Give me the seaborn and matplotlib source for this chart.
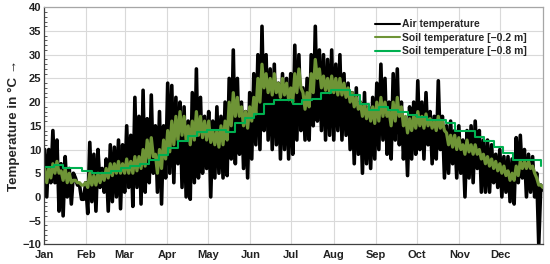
import matplotlib
matplotlib.use("Agg")
import matplotlib.pyplot as plt
import matplotlib.ticker as ticker
from matplotlib.lines import Line2D
import seaborn as sns
import pandas as pd
import numpy as np

sns.set_theme(style='white')
plt.rcParams['font.family'] = ['Liberation Sans', 'DejaVu Sans']
plt.rcParams['font.weight'] = 'bold'

months = ["Jan", "Feb", "Mar", "Apr", "May", "Jun", "Jul", "Aug", "Sep", "Oct", "Nov", "Dec"]
month_start = [0, 31, 59, 90, 120, 151, 181, 212, 243, 273, 304, 334]

# air temperature, 3-day blocks (daily max / min)
air_max = [10, 10, 14, 12, 7, 8.5, 6, 5, 2.5, -0.5, 3,
           11.5, 9, 10, 6, 8, 11, 10.5, 12, 11,
           15, 13, 21, 17, 22.5, 16.5, 21.5, 15, 18, 15,
           24, 23.5, 21, 20, 19, 16, 22, 27, 21, 17,
           18, 16, 19, 17, 20, 25, 31, 25, 20, 18,
           22, 26, 30, 36, 30, 27, 28, 24, 26, 25,
           26, 32, 30, 23, 25, 30, 36, 31, 30, 29, 31,
           28, 30, 26, 24, 22, 23, 20, 22, 19, 21,
           24, 28, 25, 20, 26, 27, 20, 16, 19, 20,
           24.5, 20, 22, 18, 17, 24.5, 17, 15, 16, 14,
           15, 12, 14, 15, 16, 14, 12, 12, 11, 9,
           10, 8.5, 8.5, 8, 12.5, 13, 10, 9, 8.5, 5, 2.5]
air_min = [0, 3, 3, -3, -4, 0, -1.5, 4, 2.5, -0.5, -3.5,
           -1, -3, 2, 1, -3, -1, 0, -2.5, 1,
           2, -2, 2, -1.5, 1, 3, 5, 1, -1.5, 4,
           5, 3, 7, 2, 0, -0.5, 3, 4, 5, 6,
           0, 4, 5, 4, 4.5, 8, 7, 9, 6, 4,
           8, 11, 10, 14, 12, 10, 11, 8, 10, 8,
           9, 12, 14, 12, 12, 15, 16, 14, 12, 13, 12,
           14, 12, 13, 10, 7, 9, 5, 7, 6, 8,
           10, 12, 9, 8, 12, 11, 8, 4.5, 8, 9,
           10, 8, 11, 7, 8, 10, 4, 5, 7, 4,
           5, 0, 4, 3, 6, 1, 1, 1, 3, 2,
           0, 1, -1, -1.5, 3, 4, 0, 1, 0, -10, 1.5]

# soil temperature at -0.2 m, 3-day blocks (max / min)
soil02_max = [6, 6, 7, 7.5, 5.5, 6, 5, 3.5, 3, 2.5, 3,
              5, 4.5, 5, 5, 6, 7, 7, 7.5, 7,
              8, 7.5, 8.5, 8.5, 10, 12, 12.5, 9, 10, 12,
              14, 16, 17, 18, 17, 15, 16, 18, 17, 16,
              16, 14, 14, 15, 16, 20, 22, 21, 19, 18,
              19, 21, 25, 28, 26, 25, 26, 24, 25, 24,
              23, 26, 27, 22, 22, 26, 29, 27, 25.5, 25, 25.5,
              25, 25, 24, 23, 22, 21, 20, 19.5, 19, 19,
              20, 21, 20, 18, 20, 21, 19, 17, 16.5, 17,
              18, 17, 17.5, 16.5, 16, 17, 16, 13.5, 13, 13,
              12.5, 11, 12, 11, 11, 10, 9, 8.5, 8, 7.5,
              7, 6.5, 5.5, 5, 6.5, 7.5, 7.5, 7.5, 6.5, 4, 2.5]
soil02_min = [3, 4, 5, 5, 3.5, 3, 3, 3.5, 3, 2.5, 2,
              2.5, 2.5, 3, 3.5, 4, 4.5, 5, 5, 5,
              5, 5, 5.5, 6, 6.5, 8, 8.5, 5, 6, 8,
              9.5, 11, 12, 13, 12, 11, 12, 13, 12.5, 12,
              11.5, 11, 10.5, 11, 12, 15, 17, 17, 15, 14.5,
              16, 17.5, 20, 23, 22, 21.5, 22, 21, 21.5, 20.5,
              20, 22, 23, 18.5, 19, 22, 25, 23, 22.5, 22, 22,
              21.5, 21.5, 21, 20, 19, 18.5, 17, 16.5, 16, 15.5,
              16, 17, 17, 15, 16, 17, 15, 13.5, 14, 14.5,
              15, 14.5, 15, 14.5, 14, 14.5, 14, 11, 10.5, 10,
              10, 9, 9.5, 9, 9, 8, 7, 6.5, 6, 5.5,
              5, 4.5, 3.5, 3.5, 4.5, 6, 6, 6, 5, 2.5, 2]

# soil temperature at -0.8 m, weekly values
soil08 = [6.3, 6.8, 6.0, 6.0, 5.5, 5.0, 5.0, 5.5, 6.0, 6.5,
          7.0, 7.8, 8.8, 10.4, 11.8, 12.9, 13.6, 14.1, 14.1, 13.6,
          15.5, 16.6, 17.5, 19.5, 20.4, 20.4, 19.7, 20.5, 20.7, 22.0,
          22.5, 22.5, 21.5, 19.5, 18.3, 19.0, 18.3, 18.0, 17.3, 16.8,
          16.2, 16.2, 15.5, 13.8, 13.8, 12.7, 11.8, 10.5, 9.2, 7.8,
          7.8, 7.8, 6.6]

blocks = np.arange(len(air_max)) * 3
air_df = pd.DataFrame({
    'day': np.column_stack([blocks + 0.5, blocks + 2.0]).ravel(),
    'T': np.column_stack([air_max, air_min]).ravel(),
})
s02_df = pd.DataFrame({
    'day': np.column_stack([blocks + 0.5, blocks + 2.0]).ravel(),
    'T': np.column_stack([soil02_max, soil02_min]).ravel(),
})
s08_df = pd.DataFrame({'day': np.arange(len(soil08)) * 7, 'T': soil08})

c_air = 'black'
c_s02 = '#6E9436'
c_s08 = '#00B050'

fig = plt.figure(figsize=(5.5, 2.64), dpi=100)
ax = fig.add_axes([0.08, 0.0746, 0.907, 0.8977])

sns.lineplot(data=air_df, x='day', y='T', color=c_air, lw=2.6, estimator=None, sort=False, ax=ax)
sns.lineplot(data=s02_df, x='day', y='T', color=c_s02, lw=2.3, estimator=None, sort=False, ax=ax)
sns.lineplot(data=s08_df, x='day', y='T', color=c_s08, lw=1.5, estimator=None, sort=False,
             drawstyle='steps-post', ax=ax)

ax.set_xlim(0, 365)
ax.set_ylim(-10, 40)
ax.set_xticks(month_start)
ax.set_xticklabels(months)
ax.yaxis.set_major_locator(ticker.MultipleLocator(5))
ax.yaxis.set_minor_locator(ticker.MultipleLocator(1))
ax.grid(True, which='major', color='#D9D9D9', lw=0.8)
ax.set_axisbelow(True)
ax.tick_params(axis='both', which='major', labelsize=8, pad=2, colors='#222222')
ax.tick_params(axis='x', which='major', direction='inout', length=4, width=0.8, color='#404040')
ax.tick_params(axis='y', which='major', direction='in', length=3, width=0.8, color='#404040')
ax.tick_params(axis='y', which='minor', direction='in', length=2, width=0.6, color='#404040', left=True)
for lab in ax.get_xticklabels() + ax.get_yticklabels():
    lab.set_fontweight('bold')
ax.spines['left'].set_color('#404040')
ax.spines['bottom'].set_color('#404040')
ax.spines['top'].set_color('#A6A6A6')
ax.spines['right'].set_color('#A6A6A6')
for s in ax.spines.values():
    s.set_linewidth(0.9)

ax.set_xlabel('')
ax.set_ylabel('Temperature in °C →', fontsize=9.6, fontweight='bold', labelpad=2)

handles = [Line2D([], [], color=c_air, lw=1.5),
           Line2D([], [], color=c_s02, lw=1.5),
           Line2D([], [], color=c_s08, lw=1.5)]
ax.legend(handles, ['Air temperature', 'Soil temperature [\u22120.2 m]', 'Soil temperature [\u22120.8 m]'],
          loc='upper right', bbox_to_anchor=(0.985, 0.985), frameon=False,
          prop={'size': 7.5, 'weight': 'bold'}, handlelength=2.4, handletextpad=0.2,
          labelspacing=0.35, borderpad=0.3)

fig.savefig('out.png', dpi=100)
